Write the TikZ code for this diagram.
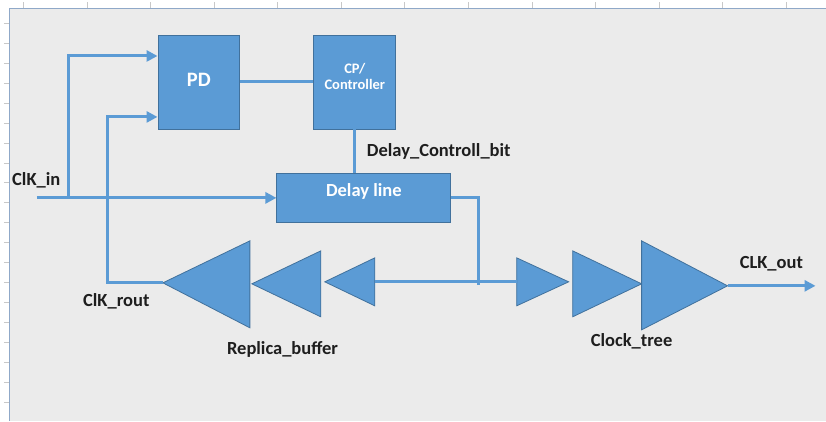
\documentclass[tikz,border=0pt]{standalone}
\usepackage{fontspec}
\setmainfont{Carlito}
\usetikzlibrary{arrows.meta}
\definecolor{blk}{HTML}{5B9BD5}
\definecolor{blkedge}{HTML}{41719C}
\definecolor{sheet}{HTML}{EBEBEB}
\definecolor{rulecol}{HTML}{8FA8C8}
\definecolor{tickcol}{HTML}{C8C8C8}
\definecolor{ink}{HTML}{1E1E1E}
% invisible strut that deepens the last text line, lifting the text in its box
\newcommand{\liftby}[1]{\rule[-#1]{0pt}{#1}}
\begin{document}
\begin{tikzpicture}[x=1pt,y=-1pt,
  block/.style={draw=blkedge, line width=0.8pt, fill=blk, text=white, inner sep=0pt},
  wire/.style={draw=blk, line width=3pt},
  arr/.style={wire, -{Triangle[length=11pt,width=11pt]}},
  buf/.style={draw=blkedge, line width=0.8pt, fill=blk, line join=miter},
  lbl/.style={font=\bfseries\fontsize{18.5}{20}\selectfont, text=ink, inner sep=0pt, anchor=base west}]

% sheet background with ruler ticks
\fill[white] (0,0) rectangle (826,421);
\fill[sheet] (10,8) rectangle (826,421);
\foreach \i in {0,...,12} \draw[tickcol, line width=0.8pt] ({23.5+63.6*\i},2) -- ++(0,6);
\foreach \j in {1,...,20} \draw[tickcol, line width=0.8pt] (4,{3+20*\j}) -- ++(6,0);
\draw[rulecol, line width=1pt] (10,421) -- (10,8) -- (826,8);

% blocks
\node[block, minimum width=82pt, minimum height=94pt,
      font=\bfseries\fontsize{20.5}{22}\selectfont] (pd) at (199,82) {PD\liftby{5pt}};
\node[block, minimum width=82pt, minimum height=94pt, align=center,
      font=\bfseries\fontsize{14.5}{15.5}\selectfont] (cp) at (355,82) {CP/\\Controller\liftby{11pt}};
\node[block, minimum width=174pt, minimum height=50pt,
      font=\bfseries\fontsize{18.5}{20}\selectfont] (dl) at (364,198) {Delay line\liftby{15pt}};

% replica buffers (pointing left)
\coordinate (r1tip) at (163,283); \coordinate (r1in) at (250,283);
\coordinate (r2tip) at (252,284); \coordinate (r2in) at (321,284);
\coordinate (r3tip) at (325,282); \coordinate (r3in) at (375,282);
\draw[buf] (r1tip) -- (250,241) -- (250,328) -- cycle;
\draw[buf] (r2tip) -- (321,251) -- (321,317) -- cycle;
\draw[buf] (r3tip) -- (375,258) -- (375,306) -- cycle;

% clock tree buffers (pointing right)
\coordinate (t1in) at (517,282); \coordinate (t1tip) at (569,282);
\coordinate (t2in) at (573,284); \coordinate (t2tip) at (642,284);
\coordinate (t3in) at (642,286); \coordinate (t3tip) at (728,286);
\draw[buf] (t1tip) -- (517,258) -- (517,306) -- cycle;
\draw[buf] (t2tip) -- (573,251) -- (573,317) -- cycle;
\draw[buf] (t3tip) -- (642,241) -- (642,330) -- cycle;

% connection points
\coordinate (clkin) at (37,198);
\coordinate (tapin) at (69,198);
\coordinate (pdup) at (0,56);
\coordinate (pdlo) at (0,117);
\coordinate (fbx) at (108,283);
\coordinate (tap) at (479,282);
\coordinate (tapend) at (479,285);
\coordinate (clkout) at (816,286);

% wiring
\draw[arr] (clkin) -- (dl.west);
\draw[arr] (tapin) |- (pd.west |- pdup);
\draw[arr] (r1tip) -- (fbx) |- (pd.west |- pdlo);
\draw[wire] (pd.east) -- (cp.west);
\draw[wire] (cp.south) -- (cp.south |- dl.north);
\draw[wire] (dl.east) -| (tapend);
\draw[wire] (r3in) -- (tap) -- (t1in);
\draw[arr] (t3tip) -- (clkout);

% labels
\node[lbl] (lin) at (12,186) {ClK\_in};
\node[lbl] (lrout) at (83,307) {ClK\_rout};
\node[lbl] (lrep) at (227,355) {Replica\_buffer};
\node[lbl] (ltree) at (591,347) {Clock\_tree};
\node[lbl] (lout) at (740,269) {CLK\_out};
\node[lbl] (lbit) at (367,157) {Delay\_Controll\_bit};
\end{tikzpicture}
\end{document}
